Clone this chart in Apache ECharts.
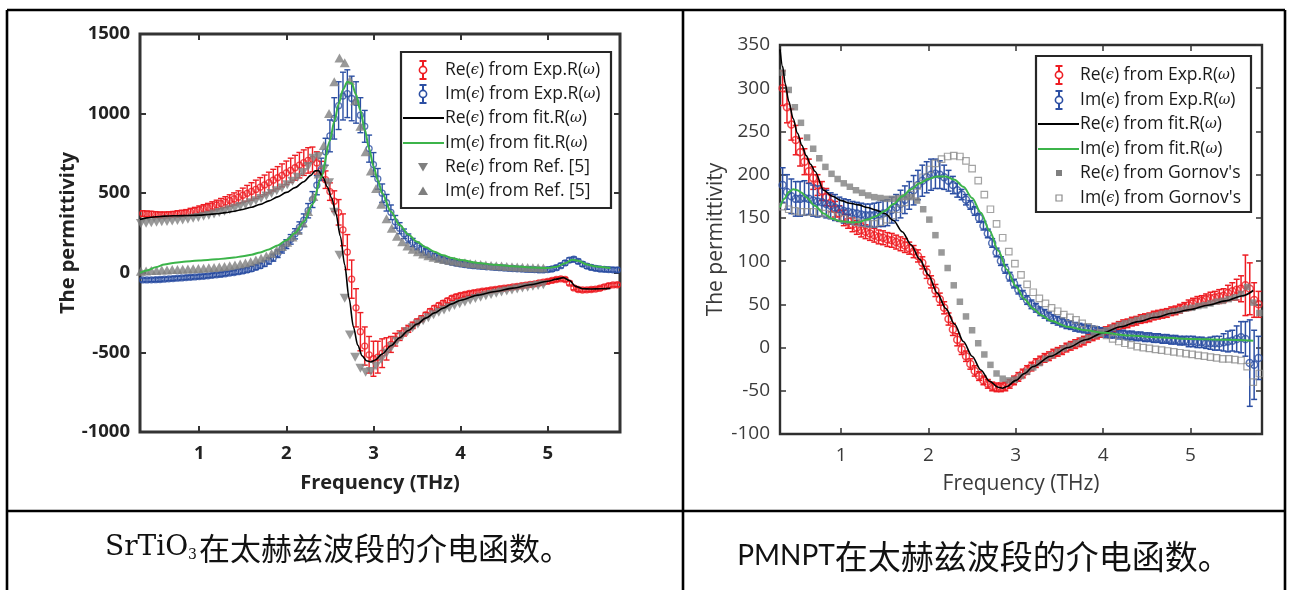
<!DOCTYPE html>
<html>
<head>
<meta charset="utf-8">
<script src="https://cdn.jsdelivr.net/npm/echarts@6/dist/echarts.min.js"></script>
<style>
html,body{margin:0;padding:0;background:#fff;}
#chart{width:1294px;height:590px;}
</style>
</head>
<body>
<div id="chart"></div>
<script>
// ---------- shared axis ticks ----------
const freqTicks = [1, 2, 3, 4, 5];
const stoYTicks = { min: -1000, max: 1500, step: 500 };
const pmnYTicks = { min: -100, max: 350, step: 50 };

// ---------- SrTiO3 panel: [frequency THz, permittivity, error] ----------
const stoReExp = [[0.35,372,18],[0.40,370,18],[0.45,368,18],[0.50,366,18],[0.55,364,18],[0.60,364,18],[0.65,365,18],[0.70,367,18],[0.75,370,20],[0.80,373,20],[0.85,377,20],[0.90,383,22],[0.95,389,22],[1.00,396,24],[1.05,403,25],[1.10,410,26],[1.15,418,28],[1.20,426,30],[1.25,435,32],[1.30,444,34],[1.35,454,36],[1.40,464,38],[1.45,475,40],[1.50,487,45],[1.55,499,50],[1.60,511,55],[1.65,524,58],[1.70,538,60],[1.75,552,62],[1.80,567,65],[1.85,582,68],[1.90,597,70],[1.95,612,72],[2.00,628,74],[2.05,644,76],[2.10,660,78],[2.15,676,80],[2.20,692,80],[2.25,706,80],[2.30,712,78],[2.35,690,70],[2.40,640,60],[2.45,585,55],[2.50,510,55],[2.55,450,65],[2.60,380,80],[2.65,270,100],[2.70,130,110],[2.75,-40,120],[2.80,-220,120],[2.85,-370,120],[2.90,-460,120],[2.95,-515,115],[3.00,-540,110],[3.05,-530,100],[3.10,-505,90],[3.15,-478,70],[3.20,-450,50],[3.25,-420,40],[3.30,-395,30],[3.35,-372,25],[3.40,-352,22],[3.45,-330,20],[3.50,-308,18],[3.55,-288,18],[3.60,-265,16],[3.65,-242,16],[3.70,-222,15],[3.75,-205,15],[3.80,-190,15],[3.85,-175,14],[3.90,-160,14],[3.95,-150,14],[4.00,-142,14],[4.05,-136,13],[4.10,-130,13],[4.15,-125,13],[4.20,-120,12],[4.25,-116,12],[4.30,-112,12],[4.35,-108,12],[4.40,-104,12],[4.45,-100,12],[4.50,-97,12],[4.55,-93,12],[4.60,-89,12],[4.65,-85,12],[4.70,-81,12],[4.75,-77,12],[4.80,-73,12],[4.85,-69,12],[4.90,-64,12],[4.95,-59,12],[5.00,-54,12],[5.05,-48,12],[5.10,-42,12],[5.15,-38,12],[5.20,-42,12],[5.25,-65,12],[5.30,-95,12],[5.35,-105,12],[5.40,-108,12],[5.45,-107,12],[5.50,-105,12],[5.55,-102,12],[5.60,-97,12],[5.65,-88,12],[5.70,-80,12],[5.75,-76,12],[5.80,-75,12]];

const stoImExp = [[0.35,-45,12],[0.40,-45,12],[0.45,-44,12],[0.50,-43,12],[0.55,-42,12],[0.60,-40,12],[0.65,-38,12],[0.70,-36,12],[0.75,-34,12],[0.80,-32,12],[0.85,-30,12],[0.90,-28,12],[0.95,-26,12],[1.00,-24,12],[1.05,-22,12],[1.10,-19,12],[1.15,-16,12],[1.20,-13,12],[1.25,-10,12],[1.30,-6,12],[1.35,-2,12],[1.40,2,12],[1.45,7,14],[1.50,12,14],[1.55,18,14],[1.60,25,15],[1.65,35,15],[1.70,45,16],[1.75,58,18],[1.80,75,20],[1.85,95,22],[1.90,120,24],[1.95,150,26],[2.00,180,28],[2.05,210,30],[2.10,245,32],[2.15,285,35],[2.20,330,40],[2.25,390,45],[2.30,460,50],[2.35,550,60],[2.40,650,70],[2.45,760,85],[2.50,860,100],[2.55,970,130],[2.60,1050,150],[2.65,1110,150],[2.70,1125,150],[2.75,1095,140],[2.80,1070,130],[2.85,990,110],[2.90,920,100],[2.95,780,85],[3.00,680,75],[3.05,590,65],[3.10,500,58],[3.15,440,52],[3.20,380,46],[3.25,320,40],[3.30,280,35],[3.35,245,30],[3.40,216,28],[3.45,190,26],[3.50,168,24],[3.55,148,22],[3.60,131,20],[3.65,116,20],[3.70,103,18],[3.75,92,18],[3.80,82,18],[3.85,74,16],[3.90,67,16],[3.95,61,16],[4.00,56,15],[4.05,52,15],[4.10,48,15],[4.15,45,15],[4.20,42,14],[4.25,40,14],[4.30,38,14],[4.35,36,14],[4.40,34,14],[4.45,32,14],[4.50,30,14],[4.55,28,14],[4.60,27,14],[4.65,25,14],[4.70,24,14],[4.75,22,14],[4.80,21,14],[4.85,20,14],[4.90,18,14],[4.95,18,14],[5.00,20,14],[5.05,24,14],[5.10,32,14],[5.15,45,14],[5.20,62,14],[5.25,80,14],[5.30,85,14],[5.35,72,14],[5.40,55,14],[5.45,42,14],[5.50,34,14],[5.55,28,14],[5.60,24,14],[5.65,22,14],[5.70,20,14],[5.75,19,14],[5.80,18,14]];

const stoReFit = [[0.32,335],[0.40,345],[0.50,352],[0.60,356],[0.70,358],[0.80,359],[0.90,360],[1.00,362],[1.10,366],[1.20,371],[1.30,378],[1.40,387],[1.50,398],[1.60,412],[1.70,430],[1.80,452],[1.90,477],[2.00,505],[2.10,535],[2.20,572],[2.28,612],[2.33,640],[2.37,642],[2.42,600],[2.47,540],[2.52,470],[2.57,370],[2.62,230],[2.67,50],[2.72,-160],[2.77,-340],[2.82,-455],[2.87,-522],[2.92,-552],[2.97,-560],[3.02,-548],[3.10,-510],[3.20,-458],[3.30,-408],[3.40,-362],[3.50,-322],[3.60,-285],[3.70,-252],[3.80,-222],[3.90,-195],[4.00,-172],[4.20,-140],[4.40,-117],[4.60,-96],[4.80,-75],[5.00,-53],[5.10,-40],[5.18,-30],[5.25,-48],[5.32,-85],[5.40,-100],[5.50,-102],[5.60,-100],[5.72,-98]];

const stoImFit = [[0.32,0],[0.40,15],[0.50,35],[0.60,52],[0.70,62],[0.80,68],[0.90,73],[1.00,77],[1.10,81],[1.20,85],[1.30,90],[1.40,96],[1.50,104],[1.60,114],[1.70,128],[1.80,147],[1.90,172],[2.00,205],[2.10,250],[2.20,320],[2.30,430],[2.40,600],[2.50,830],[2.55,950],[2.60,1060],[2.65,1150],[2.70,1200],[2.75,1190],[2.80,1120],[2.85,1020],[2.90,900],[2.95,780],[3.00,670],[3.05,580],[3.10,500],[3.20,385],[3.30,300],[3.40,240],[3.50,195],[3.60,160],[3.70,132],[3.80,110],[3.90,93],[4.00,80],[4.20,62],[4.40,50],[4.60,41],[4.80,34],[5.00,30],[5.10,38],[5.20,60],[5.28,82],[5.35,76],[5.45,52],[5.55,40],[5.72,30]];

const stoReRef = [[0.33,310],[0.39,312],[0.45,315],[0.51,318],[0.57,320],[0.63,322],[0.69,325],[0.75,328],[0.81,332],[0.87,337],[0.93,342],[0.99,348],[1.05,355],[1.11,362],[1.17,370],[1.23,378],[1.29,387],[1.35,396],[1.41,406],[1.47,417],[1.53,428],[1.59,440],[1.65,453],[1.71,467],[1.77,482],[1.83,498],[1.89,515],[1.95,533],[2.01,553],[2.07,575],[2.13,600],[2.19,630],[2.25,668],[2.31,720],[2.37,730],[2.43,650],[2.49,566],[2.55,380],[2.61,110],[2.67,-160],[2.73,-390],[2.79,-530],[2.85,-600],[2.91,-625],[2.97,-620],[3.03,-585],[3.09,-545],[3.15,-505],[3.21,-465],[3.27,-430],[3.33,-398],[3.39,-370],[3.45,-345],[3.51,-322],[3.57,-301],[3.63,-282],[3.69,-264],[3.75,-248],[3.81,-233],[3.87,-219],[3.93,-206],[3.99,-194],[4.05,-183],[4.11,-172],[4.17,-162],[4.23,-153],[4.29,-144],[4.35,-136],[4.41,-128],[4.47,-121],[4.53,-114],[4.59,-108],[4.65,-102],[4.71,-96],[4.77,-90],[4.83,-85],[4.89,-80],[4.95,-75]];

const stoImRef = [[0.33,10],[0.39,12],[0.45,14],[0.51,15],[0.57,17],[0.63,18],[0.69,20],[0.75,21],[0.81,22],[0.87,24],[0.93,25],[0.99,27],[1.05,29],[1.11,31],[1.17,34],[1.23,37],[1.29,40],[1.35,44],[1.41,49],[1.47,55],[1.53,62],[1.59,70],[1.65,80],[1.71,92],[1.77,106],[1.83,122],[1.89,142],[1.95,165],[2.01,192],[2.07,225],[2.13,265],[2.19,315],[2.25,385],[2.31,480],[2.37,620],[2.43,800],[2.49,1000],[2.55,1200],[2.61,1350],[2.67,1320],[2.73,1210],[2.79,1080],[2.85,920],[2.91,760],[2.97,640],[3.03,530],[3.09,430],[3.15,340],[3.21,280],[3.27,230],[3.33,195],[3.39,168],[3.45,148],[3.51,132],[3.57,118],[3.63,107],[3.69,98],[3.75,90],[3.81,83],[3.87,77],[3.93,72],[3.99,67],[4.05,63],[4.11,59],[4.17,55],[4.23,52],[4.29,49],[4.35,46],[4.41,44],[4.47,42],[4.53,40],[4.59,38],[4.65,36],[4.71,35],[4.77,33],[4.83,32],[4.89,31],[4.95,30]];

// ---------- PMNPT panel ----------
const pmnReExp = [[0.33,300,20],[0.38,278,18],[0.43,258,18],[0.48,240,17],[0.53,226,16],[0.58,215,15],[0.63,204,14],[0.68,196,13],[0.73,188,12],[0.78,181,11],[0.83,174,10],[0.88,167,10],[0.93,160,9],[0.98,155,9],[1.03,150,9],[1.08,146,8],[1.13,142,8],[1.18,139,8],[1.23,136,8],[1.28,134,8],[1.33,132,8],[1.38,130,8],[1.43,128,8],[1.48,127,8],[1.53,125,8],[1.58,124,8],[1.63,122,8],[1.68,120,8],[1.73,118,8],[1.78,115,7],[1.83,111,7],[1.88,106,7],[1.93,98,7],[1.98,87,7],[2.03,76,7],[2.08,66,7],[2.13,56,7],[2.18,46,7],[2.23,33,7],[2.28,21,7],[2.33,9,7],[2.38,-2,6],[2.43,-10,6],[2.48,-19,6],[2.53,-27,6],[2.58,-33,5],[2.63,-38,5],[2.68,-42,5],[2.73,-45,5],[2.78,-46,5],[2.83,-46,5],[2.88,-45,5],[2.93,-42,5],[2.98,-38,5],[3.03,-34,5],[3.08,-30,5],[3.13,-26,5],[3.18,-22,5],[3.23,-18,5],[3.28,-15,5],[3.33,-12,5],[3.38,-10,5],[3.43,-7,5],[3.48,-5,5],[3.53,-3,5],[3.58,0,5],[3.63,2,5],[3.68,4,5],[3.73,6,5],[3.78,8,5],[3.83,11,5],[3.88,13,5],[3.93,15,5],[3.98,17,5],[4.03,19,5],[4.08,21,5],[4.13,23,5],[4.18,25,5],[4.23,27,5],[4.28,28,5],[4.33,30,5],[4.38,31,5],[4.43,33,5],[4.48,34,5],[4.53,35,5],[4.58,37,5],[4.63,38,5],[4.68,39,5],[4.73,40,5],[4.78,42,5],[4.83,43,5],[4.88,45,5],[4.93,47,5],[4.98,49,6],[5.03,51,6],[5.08,53,6],[5.13,54,6],[5.18,56,6],[5.23,57,7],[5.28,58,7],[5.33,59,8],[5.38,60,8],[5.43,63,9],[5.48,65,10],[5.53,67,12],[5.58,68,15],[5.63,72,35],[5.68,68,30],[5.73,55,20],[5.78,50,15]];

const pmnImExp = [[0.33,188,20],[0.38,180,20],[0.43,175,20],[0.48,172,20],[0.53,172,20],[0.58,173,20],[0.63,172,18],[0.68,170,18],[0.73,169,18],[0.78,168,16],[0.83,166,16],[0.88,164,15],[0.93,162,15],[0.98,160,14],[1.03,158,14],[1.08,157,14],[1.13,156,13],[1.18,155,13],[1.23,154,13],[1.28,153,13],[1.33,153,13],[1.38,153,14],[1.43,154,14],[1.48,155,15],[1.53,156,15],[1.58,159,15],[1.63,162,15],[1.68,166,16],[1.73,171,16],[1.78,176,16],[1.83,182,17],[1.88,188,17],[1.93,193,18],[1.98,197,18],[2.03,200,18],[2.08,201,17],[2.13,200,16],[2.18,197,14],[2.23,193,12],[2.28,188,10],[2.33,182,8],[2.38,177,6],[2.43,171,6],[2.48,165,5],[2.53,158,5],[2.58,150,5],[2.63,141,5],[2.68,132,5],[2.73,121,5],[2.78,110,5],[2.83,100,5],[2.88,91,5],[2.93,82,5],[2.98,74,5],[3.03,67,5],[3.08,61,5],[3.13,55,5],[3.18,50,5],[3.23,46,5],[3.28,42,5],[3.33,39,5],[3.38,36,5],[3.43,33,5],[3.48,31,5],[3.53,29,5],[3.58,27,5],[3.63,26,5],[3.68,24,5],[3.73,23,5],[3.78,22,5],[3.83,21,5],[3.88,20,5],[3.93,19,5],[3.98,18,5],[4.03,17,5],[4.08,16,5],[4.13,16,5],[4.18,15,5],[4.23,15,5],[4.28,14,5],[4.33,14,5],[4.38,13,5],[4.43,13,5],[4.48,12,5],[4.53,12,5],[4.58,11,5],[4.63,11,5],[4.68,10,5],[4.73,10,5],[4.78,9,5],[4.83,9,5],[4.88,8,5],[4.93,8,5],[4.98,7,6],[5.03,7,6],[5.08,6,6],[5.13,6,6],[5.18,5,6],[5.23,5,7],[5.28,5,8],[5.33,5,8],[5.38,6,10],[5.43,7,12],[5.48,8,12],[5.53,10,15],[5.58,12,18],[5.63,10,20],[5.68,-18,50],[5.73,-20,40],[5.78,-12,25]];

const pmnReFit = [[0.30,345],[0.33,325],[0.36,305],[0.40,285],[0.45,265],[0.50,248],[0.55,234],[0.60,222],[0.65,212],[0.70,204],[0.80,182],[0.90,175],[1.00,170],[1.10,167],[1.20,165],[1.30,162],[1.40,159],[1.50,155],[1.60,147],[1.70,134],[1.80,119],[1.90,102],[2.00,84],[2.10,63],[2.20,45],[2.30,27],[2.40,7],[2.50,-10],[2.60,-26],[2.70,-39],[2.80,-46],[2.85,-47],[2.90,-45],[3.00,-38],[3.10,-30],[3.20,-22],[3.40,-10],[3.60,0],[3.80,9],[4.00,17],[4.20,24],[4.40,30],[4.60,35],[4.80,40],[5.00,44],[5.20,49],[5.40,54],[5.60,60],[5.72,66]];

const pmnImFit = [[0.30,162],[0.35,172],[0.40,180],[0.45,183],[0.50,182],[0.55,179],[0.60,174],[0.70,164],[0.80,155],[0.90,149],[1.00,146],[1.10,145],[1.20,145],[1.30,148],[1.40,152],[1.50,158],[1.60,166],[1.70,175],[1.80,183],[1.90,190],[2.00,195],[2.10,198],[2.20,198],[2.30,194],[2.40,186],[2.50,173],[2.60,156],[2.70,135],[2.80,112],[2.90,90],[3.00,71],[3.10,56],[3.20,45],[3.30,37],[3.40,31],[3.60,24],[3.80,20],[4.00,17],[4.30,14],[4.60,12],[5.00,10],[5.40,9],[5.72,8]];

const pmnReGornov = [[0.33,318],[0.40,298],[0.47,278],[0.54,260],[0.61,243],[0.68,230],[0.75,219],[0.82,209],[0.89,201],[0.96,195],[1.03,190],[1.10,186],[1.17,182],[1.24,179],[1.31,176],[1.38,174],[1.45,173],[1.52,172],[1.59,172],[1.66,173],[1.73,174],[1.80,174],[1.87,170],[1.94,160],[2.01,148],[2.08,130],[2.15,110],[2.22,92],[2.29,72],[2.36,53],[2.43,36],[2.50,20],[2.57,5],[2.64,-8],[2.71,-20],[2.78,-30],[2.85,-36],[2.92,-38],[2.99,-37],[3.06,-33],[3.13,-28],[3.20,-23],[3.27,-18],[3.34,-13],[3.41,-9],[3.48,-5],[3.55,-1],[3.62,2],[3.69,5],[3.76,8],[3.83,11],[3.90,14],[3.97,17],[4.04,20],[4.11,23],[4.18,26],[4.25,28],[4.32,30],[4.39,32],[4.46,34],[4.53,36],[4.60,37],[4.67,39],[4.74,40],[4.81,42],[4.88,43],[4.95,45],[5.02,46],[5.09,48],[5.16,49],[5.23,51],[5.30,53],[5.37,54],[5.44,56],[5.51,58],[5.58,62],[5.65,70],[5.72,52],[5.79,40]];

const pmnImGornov = [[0.33,163],[0.40,160],[0.47,158],[0.54,157],[0.61,157],[0.68,157],[0.75,156],[0.82,155],[0.89,153],[0.96,151],[1.03,149],[1.10,147],[1.17,145],[1.24,144],[1.31,143],[1.38,143],[1.45,145],[1.52,148],[1.59,153],[1.66,160],[1.73,168],[1.80,177],[1.87,187],[1.94,197],[2.01,206],[2.08,213],[2.15,218],[2.22,221],[2.29,222],[2.36,221],[2.43,216],[2.50,207],[2.57,193],[2.64,177],[2.71,160],[2.78,143],[2.85,127],[2.92,111],[2.99,97],[3.06,84],[3.13,73],[3.20,64],[3.27,57],[3.34,51],[3.41,46],[3.48,42],[3.55,38],[3.62,35],[3.69,32],[3.76,28],[3.83,24],[3.90,21],[3.97,17],[4.04,14],[4.11,10],[4.18,7],[4.25,5],[4.32,3],[4.39,1],[4.46,0],[4.53,-1],[4.60,-2],[4.67,-3],[4.74,-4],[4.81,-5],[4.88,-6],[4.95,-7],[5.02,-8],[5.09,-9],[5.16,-10],[5.23,-11],[5.30,-12],[5.37,-13],[5.44,-13],[5.51,-14],[5.58,-15],[5.65,-22],[5.72,-40],[5.79,-30]];

// ---------- text ----------
const stoLegend = ['Re(ϵ) from Exp.R(ω)', 'Im(ϵ) from Exp.R(ω)', 'Re(ϵ) from fit.R(ω)', 'Im(ϵ) from fit.R(ω)', 'Re(ϵ) from Ref. [5]', 'Im(ϵ) from Ref. [5]'];
const pmnLegend = ['Re(ϵ) from Exp.R(ω)', 'Im(ϵ) from Exp.R(ω)', 'Re(ϵ) from fit.R(ω)', 'Im(ϵ) from fit.R(ω)', "Re(ϵ) from Gornov's", "Im(ϵ) from Gornov's"];
const xTitle = 'Frequency (THz)';
const yTitle = 'The permittivity';
const stoCaption = { formula: 'SrTiO', sub: '3', text: '在太赫兹波段的介电函数。' };
const pmnCaption = { formula: 'PMNPT', text: '在太赫兹波段的介电函数。' };

// ---------- colours ----------
const RED = '#ee1d23';
const BLUE = '#2c4fa3';
const GREEN = '#3cb44a';
const GRAY = '#7f7f7f';
const DOWN_TRI = 'path://M0,0L10,0L5,8.7Z';

// ---------- helpers ----------
function errorBars(data, color, axisIdx, capHalf, lw) {
  return {
    type: 'custom', xAxisIndex: axisIdx, yAxisIndex: axisIdx, data: data,
    silent: true, clip: true, encode: { x: 0, y: 1 },
    renderItem: function (params, api) {
      const x = api.value(0), y = api.value(1), e = api.value(2);
      const hi = api.coord([x, y + e]);
      const lo = api.coord([x, y - e]);
      const st = { stroke: color, lineWidth: lw };
      return {
        type: 'group', children: [
          { type: 'line', shape: { x1: hi[0], y1: hi[1], x2: lo[0], y2: lo[1] }, style: st },
          { type: 'line', shape: { x1: hi[0] - capHalf, y1: hi[1], x2: hi[0] + capHalf, y2: hi[1] }, style: st },
          { type: 'line', shape: { x1: lo[0] - capHalf, y1: lo[1], x2: lo[0] + capHalf, y2: lo[1] }, style: st }
        ]
      };
    }
  };
}
function rings(data, color, axisIdx, size, lw) {
  return {
    type: 'scatter', xAxisIndex: axisIdx, yAxisIndex: axisIdx, data: data,
    encode: { x: 0, y: 1 }, symbol: 'circle', symbolSize: size, silent: true,
    itemStyle: { color: 'rgba(255,255,255,0)', borderColor: color, borderWidth: lw }
  };
}
function fitLine(data, color, axisIdx, lw) {
  return {
    type: 'line', xAxisIndex: axisIdx, yAxisIndex: axisIdx, data: data,
    showSymbol: false, smooth: 0.3, smoothMonotone: 'x', silent: true, clip: true,
    lineStyle: { color: color, width: lw }
  };
}
function marks(data, symbol, axisIdx, size, style) {
  return {
    type: 'scatter', xAxisIndex: axisIdx, yAxisIndex: axisIdx, data: data,
    symbol: symbol, symbolSize: size, silent: true, itemStyle: style
  };
}

function xAxes(gi, min, max, font) {
  const tick = { inside: true, length: 6, customValues: freqTicks, lineStyle: { color: font.frame, width: font.tickW } };
  return [
    {
      gridIndex: gi, type: 'value', min: min, max: max, position: 'bottom',
      axisLine: { show: false, onZero: false }, splitLine: { show: false }, axisTick: tick,
      axisLabel: { customValues: freqTicks, margin: 12, fontFamily: font.family, fontWeight: font.weight, fontSize: font.size, color: font.color },
      name: xTitle, nameLocation: 'middle', nameGap: font.xGap,
      nameTextStyle: { fontFamily: font.family, fontWeight: font.weight, fontSize: font.titleSize, color: font.color }
    },
    {
      gridIndex: gi, type: 'value', min: min, max: max, position: 'top',
      axisLine: { show: false, onZero: false }, splitLine: { show: false }, axisTick: tick, axisLabel: { show: false }
    }
  ];
}
function yAxes(gi, t, font) {
  const tick = { inside: true, length: 6, lineStyle: { color: font.frame, width: font.tickW } };
  return [
    {
      gridIndex: gi, type: 'value', min: t.min, max: t.max, interval: t.step, position: 'left',
      axisLine: { show: false, onZero: false }, splitLine: { show: false }, axisTick: tick,
      axisLabel: { margin: 10, formatter: function (v) { return String(v); }, fontFamily: font.family, fontWeight: font.weight, fontSize: font.size, color: font.color },
      name: yTitle, nameLocation: 'middle', nameGap: font.yGap, nameRotate: 90,
      nameTextStyle: { fontFamily: font.family, fontWeight: font.weight, fontSize: font.titleSize, color: font.color }
    },
    {
      gridIndex: gi, type: 'value', min: t.min, max: t.max, interval: t.step, position: 'right',
      axisLine: { show: false, onZero: false }, splitLine: { show: false }, axisTick: tick, axisLabel: { show: false }
    }
  ];
}

const stoFont = { family: 'Open Sans', weight: 'bold', size: 18.5, titleSize: 20, color: '#222', frame: '#333', tickW: 2, xGap: 41, yGap: 46 };
const pmnFont = { family: 'Open Sans', weight: 'normal', size: 19, titleSize: 21, color: '#3a3a3a', frame: '#333', tickW: 1.5, xGap: 40, yGap: 53 };

// ---------- legend drawing ----------
function richLabel(s) {
  return s.replace(/ϵ/g, '{g|ϵ}').replace(/ω/g, '{g|ω}');
}
function legendBlock(box, rows, iconX, textX, labels, kinds, fontSize) {
  const els = [{
    type: 'rect', shape: { x: box.x, y: box.y, width: box.w, height: box.h },
    style: { fill: '#fff', stroke: '#262626', lineWidth: 2.2 }, z: 100
  }];
  kinds.forEach(function (k, i) {
    const y = rows[i];
    if (k.type === 'err') {
      const st = { stroke: k.color, lineWidth: 2 };
      els.push({ type: 'line', shape: { x1: iconX, y1: y - 9, x2: iconX, y2: y + 9 }, style: st, z: 101 });
      els.push({ type: 'line', shape: { x1: iconX - 3.5, y1: y - 9, x2: iconX + 3.5, y2: y - 9 }, style: st, z: 101 });
      els.push({ type: 'line', shape: { x1: iconX - 3.5, y1: y + 9, x2: iconX + 3.5, y2: y + 9 }, style: st, z: 101 });
      els.push({ type: 'circle', shape: { cx: iconX, cy: y, r: 3.6 }, style: { fill: '#fff', stroke: k.color, lineWidth: 1.6 }, z: 102 });
    } else if (k.type === 'line') {
      els.push({ type: 'line', shape: { x1: box.x + 2, y1: y, x2: textX - 1, y2: y }, style: { stroke: k.color, lineWidth: 2.2 }, z: 101 });
    } else if (k.type === 'down') {
      els.push({ type: 'polygon', shape: { points: [[iconX - 5, y - 4], [iconX + 5, y - 4], [iconX, y + 4.5]] }, style: { fill: GRAY }, z: 101 });
    } else if (k.type === 'up') {
      els.push({ type: 'polygon', shape: { points: [[iconX - 5, y + 4], [iconX + 5, y + 4], [iconX, y - 4.5]] }, style: { fill: GRAY }, z: 101 });
    } else if (k.type === 'square') {
      els.push({ type: 'rect', shape: { x: iconX - 3, y: y - 3, width: 6, height: 6 }, style: { fill: GRAY }, z: 101 });
    } else if (k.type === 'hollow') {
      els.push({ type: 'rect', shape: { x: iconX - 3, y: y - 3, width: 6, height: 6 }, style: { fill: '#fff', stroke: '#8c8c8c', lineWidth: 1.2 }, z: 101 });
    }
    els.push({
      type: 'text', x: textX, y: y, z: 101,
      style: {
        text: richLabel(labels[i]), fill: '#1a1a1a', font: 'normal ' + fontSize + 'px "Open Sans"',
        verticalAlign: 'middle', align: 'left',
        rich: { g: { fontFamily: 'DejaVu Serif', fontStyle: 'italic', fontSize: fontSize - 3, fill: '#1a1a1a' } }
      }
    });
  });
  return els;
}

const stoKinds = [{ type: 'err', color: RED }, { type: 'err', color: BLUE }, { type: 'line', color: '#000' }, { type: 'line', color: GREEN }, { type: 'down' }, { type: 'up' }];
const pmnKinds = [{ type: 'err', color: RED }, { type: 'err', color: BLUE }, { type: 'line', color: '#000' }, { type: 'line', color: GREEN }, { type: 'square' }, { type: 'hollow' }];

// ---------- table frame and captions ----------
const tableLines = [
  [7, 10, 1285, 10], [7, 10, 7, 590], [1285, 10, 1285, 590], [683, 10, 683, 590], [7, 511, 1285, 511]
].map(function (p) {
  return { type: 'line', shape: { x1: p[0], y1: p[1], x2: p[2], y2: p[3] }, style: { stroke: '#000', lineWidth: 2.6 }, z: 50 };
});

const captions = [
  {
    type: 'text', x: 338, y: 548, z: 60,
    style: {
      text: '{f|' + stoCaption.formula + '}{s|' + stoCaption.sub + '}{c|' + stoCaption.text + '}',
      align: 'center', verticalAlign: 'middle',
      rich: {
        f: { fontFamily: 'DejaVu Serif', fontSize: 28, fill: '#111' },
        s: { fontFamily: 'DejaVu Serif', fontSize: 14, fill: '#111', padding: [14, 2, 0, 0] },
        c: { fontFamily: 'Noto Sans CJK SC', fontSize: 31, fill: '#111' }
      }
    }
  },
  {
    type: 'text', x: 984, y: 556, z: 60,
    style: {
      text: '{f|' + pmnCaption.formula + '}{c|' + pmnCaption.text + '}',
      align: 'center', verticalAlign: 'middle',
      rich: {
        f: { fontFamily: 'Liberation Sans Narrow, Lato', fontSize: 28, fill: '#111' },
        c: { fontFamily: 'Noto Sans CJK SC', fontSize: 33, fill: '#111' }
      }
    }
  }
];

const graphics = tableLines.concat(captions)
  .concat(legendBlock({ x: 401, y: 52, w: 210, h: 156 }, [70, 94, 118, 143, 167, 191], 423, 445, stoLegend, stoKinds, 17.5))
  .concat(legendBlock({ x: 1036, y: 56, w: 215, h: 156 }, [75, 100, 124, 149, 173, 198], 1059, 1080, pmnLegend, pmnKinds, 17.5));

// ---------- chart ----------
const chart = echarts.init(document.getElementById('chart'), null, { renderer: 'canvas' });
chart.setOption({
  animation: false,
  backgroundColor: '#fff',
  grid: [
    { left: 140, top: 34, width: 480, height: 398, show: true, borderColor: '#333', borderWidth: 3, backgroundColor: 'rgba(0,0,0,0)' },
    { left: 780, top: 45, width: 482, height: 389, show: true, borderColor: '#2e2e2e', borderWidth: 2.4, backgroundColor: 'rgba(0,0,0,0)' }
  ],
  xAxis: xAxes(0, 0.32, 5.83, stoFont).concat(xAxes(1, 0.3, 5.82, pmnFont)),
  yAxis: yAxes(0, stoYTicks, stoFont).concat(yAxes(1, pmnYTicks, pmnFont)),
  series: [
    // SrTiO3 (axes 0)
    errorBars(stoReExp, RED, 0, 3, 1.4),
    rings(stoReExp, RED, 0, 6, 1.3),
    errorBars(stoImExp, BLUE, 0, 3, 1.4),
    rings(stoImExp, BLUE, 0, 6, 1.3),
    fitLine(stoReFit, '#000', 0, 1.6),
    fitLine(stoImFit, GREEN, 0, 2),
    marks(stoReRef, DOWN_TRI, 0, [10, 9], { color: GRAY }),
    marks(stoImRef, 'triangle', 0, [10, 9], { color: GRAY }),
    // PMNPT (axes 2)
    errorBars(pmnReExp, RED, 2, 3, 1.5),
    rings(pmnReExp, RED, 2, 7, 1.5),
    errorBars(pmnImExp, BLUE, 2, 3, 1.5),
    rings(pmnImExp, BLUE, 2, 7, 1.5),
    fitLine(pmnReFit, '#000', 2, 1.6),
    fitLine(pmnImFit, GREEN, 2, 2),
    marks(pmnReGornov, 'rect', 2, 6.5, { color: GRAY }),
    marks(pmnImGornov, 'rect', 2, 6.5, { color: 'rgba(255,255,255,0)', borderColor: '#8c8c8c', borderWidth: 1.2 })
  ],
  graphic: graphics
});
</script>
</body>
</html>
